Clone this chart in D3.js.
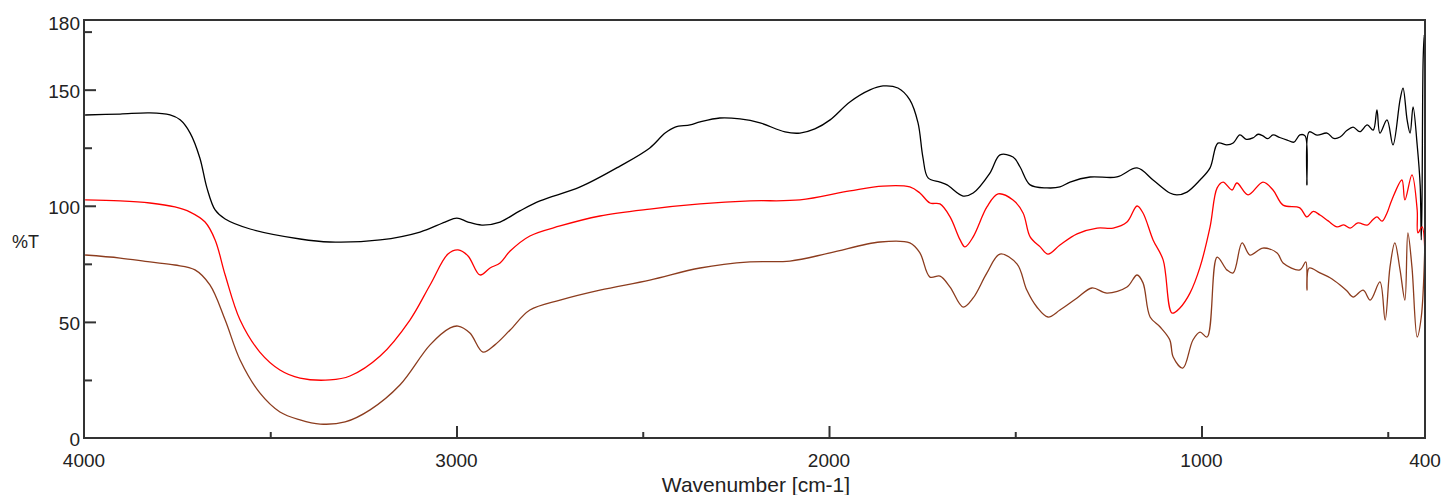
<!DOCTYPE html>
<html>
<head>
<meta charset="utf-8">
<script src="https://cdn.jsdelivr.net/npm/d3@7"></script>
<style>
  html, body { margin: 0; padding: 0; background: #fff; }
  svg { display: block; }
  text { font-family: "Liberation Sans", Arial, sans-serif; fill: #222; }
</style>
</head>
<body>
<svg id="chart" width="1445" height="495"></svg>
<script>
// ---- data (wavenumber cm-1, %T) ----
const blackWn = [3997,3903,3823,3769,3742,3715,3689,3670,3648,3621,3554,3420,3340,3205,3098,3031,2999,2969,2932,2883,2830,2776,2668,2561,2481,2440,2413,2373,2346,2293,2239,2185,2118,2078,2038,1997,1944,1890,1855,1815,1783,1761,1748,1734,1702,1683,1640,1613,1568,1541,1506,1487,1460,1415,1380,1353,1299,1227,1173,1130,1085,1066,1039,1004,977,956,932,915,897,880,862,848,835,822,808,790,770,752,736,722,717,711,690,663,645,628,610,593,575,555,539,529,521,502,486,467,459,448,440,432,421,413,410,408,405,402,400];
const blackT = [139.1,139.5,140.0,139.1,137.0,131.3,120.6,107.7,98.2,94.3,90.0,85.7,84.4,85.3,88.7,93.0,94.7,93.0,91.7,93.0,97.8,102.1,108.1,117.1,124.9,131.3,133.9,134.8,136.1,137.8,137.4,135.7,131.8,131.3,133.1,137.0,144.7,149.9,151.6,150.7,145.6,135.7,121.0,112.0,110.2,109.0,104.2,105.5,114.1,121.9,121.0,116.7,109.0,107.7,108.1,110.2,112.4,112.4,116.3,111.1,105.5,104.7,105.9,111.1,116.3,127.0,126.2,127.0,130.5,128.6,129.2,130.8,130.1,128.9,130.5,129.4,128.3,127.4,130.5,130.1,109.0,131.8,130.4,131.3,129.0,129.6,132.4,133.9,131.9,134.8,132.6,141.3,131.3,137.0,126.2,145.6,150.7,137.0,131.3,142.6,126.2,109.0,85.3,102.5,162.8,173.6,124.0];

const redWn = [3997,3903,3823,3756,3715,3675,3648,3621,3581,3528,3474,3420,3340,3286,3205,3125,3071,3023,2996,2969,2937,2910,2883,2856,2803,2722,2615,2481,2346,2212,2078,1944,1855,1783,1756,1729,1702,1675,1648,1635,1613,1576,1546,1506,1479,1460,1433,1412,1380,1334,1280,1237,1200,1173,1157,1130,1103,1079,1058,1031,1004,977,958,942,918,905,875,835,808,781,736,717,700,682,660,636,618,601,580,555,540,529,515,502,489,462,454,435,421,419,408,400];
const redT = [102.5,102.1,101.2,99.5,97.3,93.0,85.3,70.2,50.8,37.0,29.3,25.8,25.0,26.7,35.3,50.8,65.9,79.2,81.0,78.4,70.2,73.2,75.4,80.5,87.0,91.3,95.6,98.6,100.8,102.1,102.5,106.4,108.5,108.1,105.5,101.2,100.8,95.2,85.3,82.3,86.6,99.5,105.1,102.5,96.9,86.6,82.3,79.2,83.1,87.9,90.4,90.4,93.0,99.9,96.9,85.3,76.7,53.8,56.0,62.4,73.6,90.9,107.7,110.2,106.8,109.8,104.7,110.2,106.8,100.3,99.1,95.2,97.6,96.0,93.5,90.9,91.8,90.4,92.6,91.7,94.0,95.2,93.4,96.9,102.5,111.1,102.5,113.3,98.2,88.3,90.9,77.9];

const brownWn = [3997,3903,3823,3756,3702,3662,3621,3581,3528,3474,3420,3366,3299,3232,3152,3071,3017,2996,2964,2929,2897,2856,2803,2722,2615,2481,2346,2212,2105,1997,1863,1783,1756,1729,1702,1675,1640,1613,1576,1541,1495,1469,1442,1412,1380,1334,1294,1254,1200,1173,1157,1138,1111,1085,1076,1050,1023,1004,985,958,932,915,891,870,835,797,781,736,720,717,711,682,655,628,610,593,566,547,521,507,494,481,467,454,446,435,421,410,400];
const brownT = [78.8,77.5,75.8,74.5,72.4,65.9,50.8,33.6,19.4,11.2,7.8,6.0,6.9,12.1,22.8,40.1,47.4,48.2,45.2,37.0,40.1,46.5,55.1,59.4,63.7,68.0,73.2,75.8,76.2,79.7,84.4,84.0,79.7,69.3,69.7,65.0,56.4,60.3,71.1,79.2,74.9,63.7,56.4,52.1,55.1,60.3,64.6,62.4,65.0,70.2,66.8,52.1,47.8,42.2,34.9,30.1,42.2,45.6,43.5,77.9,72.4,71.1,84.0,78.8,81.8,79.7,75.4,72.4,75.8,63.7,73.2,71.1,69.0,65.9,63.4,60.7,63.7,59.4,67.2,50.8,73.6,84.0,72.4,59.4,88.3,73.6,43.5,52.1,85.3];

const xTickLabels = [4000, 3000, 2000, 1000, 400];
const xMajorTicks = [3000, 2000, 1000];
const xMinorTicks = [3500, 2500, 1500, 500];
const yTickLabels = [0, 50, 100, 150, 180];
const yMajorTicks = [50, 100, 150];
const yMinorTicks = [25, 75, 125, 175];

const seriesColors = ["#000000", "#ff0000", "#8c3c1e"];

// ---- layout ----
const mLeft = 84, mRight = 1425, mTop = 20, mBottom = 438;
const svg = d3.select("#chart");

const x = d3.scaleLinear().domain([4000, 400]).range([mLeft, mRight]);
const y = d3.scaleLinear().domain([0, 180]).range([mBottom, mTop]);

const series = [
  { wn: blackWn, t: blackT },
  { wn: redWn, t: redT },
  { wn: brownWn, t: brownT }
];

const line = d3.line()
  .x(d => x(d[0]))
  .y(d => y(d[1]))
  .curve(d3.curveCatmullRom.alpha(0.5));

const g = svg.append("g");
series.forEach((s, i) => {
  const pts = s.wn.map((w, k) => [w, s.t[k]]);
  g.append("path")
    .datum(pts)
    .attr("fill", "none")
    .attr("stroke", seriesColors[i])
    .attr("stroke-width", 1.3)
    .attr("stroke-linejoin", "round")
    .attr("d", line);
});

// ---- frame ----
svg.append("rect")
  .attr("x", mLeft).attr("y", mTop)
  .attr("width", mRight - mLeft).attr("height", mBottom - mTop)
  .attr("fill", "none").attr("stroke", "#333").attr("stroke-width", 2);

// ---- y axis (ticks inside) ----
const yAxisMajor = d3.axisRight(y).tickValues(yMajorTicks).tickSize(12).tickFormat("");
const yAxisMinor = d3.axisRight(y).tickValues(yMinorTicks).tickSize(8).tickFormat("");
[yAxisMajor, yAxisMinor].forEach(ax => {
  const a = svg.append("g").attr("transform", `translate(${mLeft},0)`).call(ax);
  a.select(".domain").remove();
  a.selectAll("line").attr("stroke", "#333").attr("stroke-width", 2);
});
svg.append("g").selectAll("text").data(yTickLabels).join("text")
  .attr("x", 80).attr("y", d => y(d) + (d === 180 ? 10 : 8))
  .attr("text-anchor", "end")
  .attr("font-size", 19).text(d => d);

// ---- x axis (ticks inside, upward) ----
const xAxisMajor = d3.axisTop(x).tickValues(xMajorTicks).tickSize(12).tickFormat("");
const xAxisMinor = d3.axisTop(x).tickValues(xMinorTicks).tickSize(6).tickFormat("");
[xAxisMajor, xAxisMinor].forEach(ax => {
  const a = svg.append("g").attr("transform", `translate(0,${mBottom})`).call(ax);
  a.select(".domain").remove();
  a.selectAll("line").attr("stroke", "#333").attr("stroke-width", 2);
});
svg.append("g").selectAll("text").data(xTickLabels).join("text")
  .attr("x", d => x(d)).attr("y", 467)
  .attr("text-anchor", "middle").attr("font-size", 19).text(d => d);

// ---- titles ----
svg.append("text").attr("x", 756).attr("y", 492)
  .attr("text-anchor", "middle").attr("font-size", 21).text("Wavenumber [cm-1]");
svg.append("text").attr("x", 12).attr("y", 248)
  .attr("font-size", 18).text("%T");
</script>
</body>
</html>
